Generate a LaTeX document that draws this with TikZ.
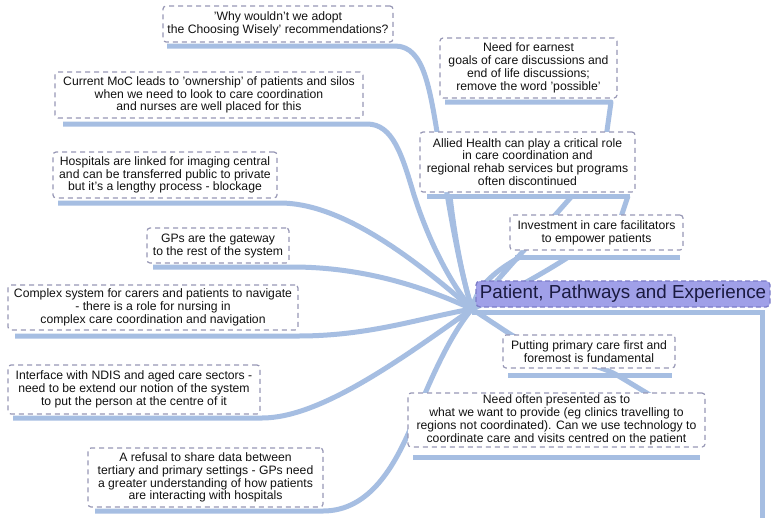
\documentclass[tikz,border=0pt]{standalone}
\usepackage{fontspec}
\setmainfont{Liberation Sans}
\definecolor{ln}{HTML}{A6BEE2}
\definecolor{bd}{HTML}{9898B6}
\definecolor{tf}{HTML}{A0A0E8}
\definecolor{tb}{HTML}{7C7CC8}
\definecolor{tx}{HTML}{121212}
\definecolor{tt}{HTML}{1A1A40}
\tikzset{
  idea/.style={draw=bd, dash pattern=on 5pt off 4pt, line width=1.2pt, rounded corners=3pt,
    fill=white, align=center, inner sep=0pt, text=tx, font=\fontsize{12.2}{12.8}\selectfont},
  topic/.style={draw=tb, dash pattern=on 5pt off 3pt, line width=1.3pt, rounded corners=4pt,
    fill=tf, align=center, inner sep=0pt, text=tt, font=\fontsize{18.8}{20}\selectfont},
  conn/.style={draw=ln, line width=5pt, line join=round},
  uline/.style={draw=ln, line width=5pt}
}
\begin{document}
\begin{tikzpicture}[x=1pt,y=-1pt]
\fill[white] (0,0) rectangle (776,517);
\useasboundingbox (0,0) rectangle (776,517);

% hub and underline end points
\coordinate (hub) at (472,309);
\coordinate (whyL) at (167,46);   \coordinate (whyR) at (395,46);
\coordinate (mocL) at (63,124);   \coordinate (mocR) at (367,124);
\coordinate (hospL) at (58,203);  \coordinate (hospR) at (280,203);
\coordinate (gpsL) at (153,267);  \coordinate (gpsR) at (292,267);
\coordinate (cplxL) at (15,336);  \coordinate (cplxR) at (298,336);
\coordinate (ndisL) at (13,418);  \coordinate (ndisR) at (262,418);
\coordinate (refL) at (95,511);   \coordinate (refR) at (323,511);
\coordinate (earnL) at (445,102); \coordinate (earnR) at (611,102);
\coordinate (allL) at (427,196);  \coordinate (allR) at (630,196);
\coordinate (invL) at (515,257);  \coordinate (invR) at (680,257);
\coordinate (putL) at (508,375);  \coordinate (putR) at (672,375);
\coordinate (needL) at (413,457); \coordinate (needR) at (700,457);
\coordinate (ttlL) at (472,312);  \coordinate (ttlC) at (762,312);
\coordinate (ttlE) at (762,520);

% connectors
\draw[conn] (whyL) -- (whyR) .. controls (425,46) and (430,90) .. (440,150)
   .. controls (450,215) and (460,270) .. (hub);
\draw[conn] (mocL) -- (mocR) .. controls (393,124) and (402,155) .. (414,195)
   .. controls (430,245) and (452,285) .. (hub);
\draw[conn] (hospL) -- (hospR) .. controls (340,203) and (410,255) .. (hub);
\draw[conn] (gpsL) -- (gpsR) .. controls (360,267) and (420,285) .. (hub);
\draw[conn] (cplxL) -- (cplxR) .. controls (370,336) and (420,318) .. (hub);
\draw[conn] (ndisL) -- (ndisR) .. controls (320,418) and (400,360) .. (hub);
\draw[conn] (refL) -- (refR) .. controls (370,511) and (395,465) .. (412,425)
   .. controls (430,380) and (450,335) .. (hub);
\draw[conn] (allL) -- (allR);
\draw[conn] (450,196) .. controls (455,240) and (463,280) .. (hub);
\draw[conn] (572,196) -- (hub);
\draw[conn] (628,196) -- (616,232);
\draw[conn] (earnL) -- (earnR) -- (605,145);
\draw[conn] (invL) -- (invR);
\draw[conn] (520,257) .. controls (497,270) and (477,285) .. (hub);
\draw[conn] (567,258) .. controls (540,275) and (505,295) .. (hub);
\draw[conn] (putL) -- (putR);
\draw[conn,rounded corners=8pt] (hub) -- (516,338) -- (612,372) -- (655,398);
\draw[conn] (needL) -- (needR);
\draw[uline] (ttlL) -- (ttlC) -- (ttlE);

% ideas
\node[idea, minimum width=230pt, minimum height=36pt] (why) at (278,24)
  {'Why wouldn't we adopt\\the Choosing Wisely' recommendations?};
\node[idea, minimum width=308pt, minimum height=46pt] (moc) at (209,95)
  {Current MoC leads to 'ownership' of patients and silos\\when we need to look to care coordination\\and nurses are well placed for this};
\node[idea, minimum width=224pt, minimum height=46pt] (hosp) at (165,175)
  {Hospitals are linked for imaging central\\and can be transferred public to private\\but it's a lengthy process - blockage};
\node[idea, minimum width=142pt, minimum height=35pt] (gps) at (218,245.5)
  {GPs are the gateway\\to the rest of the system};
\node[idea, minimum width=290pt, minimum height=45pt] (cplx) at (153,307.5)
  {Complex system for carers and patients to navigate\\- there is a role for nursing in\\complex care coordination and navigation};
\node[idea, minimum width=252pt, minimum height=49pt] (ndis) at (134,389.5)
  {Interface with NDIS and aged care sectors -\\need to be extend our notion of the system\\to put the person at the centre of it};
\node[idea, minimum width=235pt, minimum height=59pt] (ref) at (205.5,477.5)
  {A refusal to share data between\\tertiary and primary settings - GPs need\\a greater understanding of how patients\\are interacting with hospitals};
\node[idea, minimum width=177pt, minimum height=60pt] (earn) at (528.5,68)
  {Need for earnest\\goals of care discussions and\\end of life discussions;\\remove the word 'possible'};
\node[idea, minimum width=215pt, minimum height=60pt] (all) at (527.5,162)
  {Allied Health can play a critical role\\in care coordination and\\regional rehab services but programs\\often discontinued};
\node[idea, minimum width=173pt, minimum height=35pt] (inv) at (596.5,232.5)
  {Investment in care facilitators\\to empower patients};
\node[idea, minimum width=172pt, minimum height=33pt] (put) at (589,351.5)
  {Putting primary care first and\\foremost is fundamental};
\node[idea, minimum width=297pt, minimum height=54pt] (need) at (556.5,420)
  {Need often presented as to\\what we want to provide (eg clinics travelling to\\regions not coordinated). Can we use technology to\\coordinate care and visits centred on the patient};
\node[topic, minimum width=294pt, minimum height=26pt] (ttl) at (623,294)
  {Patient, Pathways and Experience};
\end{tikzpicture}
\end{document}
